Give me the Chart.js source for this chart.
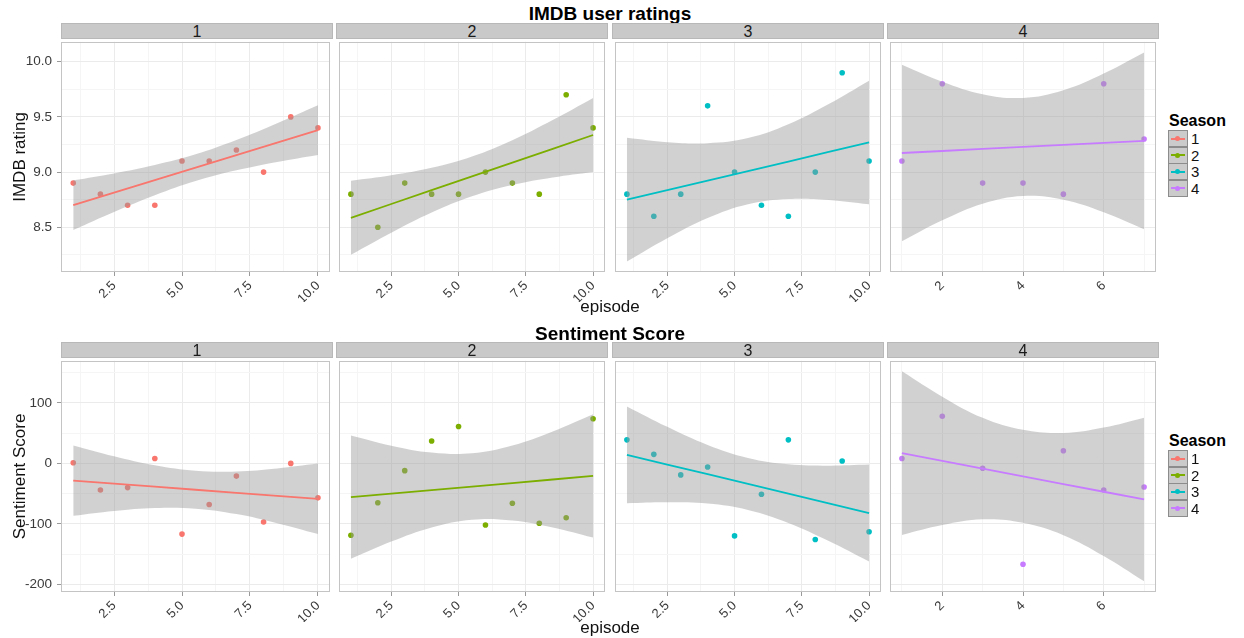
<!DOCTYPE html>
<html>
<head>
<meta charset="utf-8">
<script src="https://cdn.jsdelivr.net/npm/chart.js@4"></script>
<style>
  html, body { margin: 0; padding: 0; background: #fff; }
  body { width: 1244px; height: 638px; position: relative; overflow: hidden; font-family: "Liberation Sans", Arial, sans-serif; }
  .abs { position: absolute; }
  .mainTitle { left: 61px; width: 1098px; text-align: center; font-weight: bold; font-size: 19px; line-height: 22px; color: #000; }
  .strip { background: #c9c9c9; border: 1px solid #b8b8b8; box-sizing: border-box; text-align: center; font-size: 16px; line-height: 15px; color: #1a1a1a; }
  .xTitle { left: 61px; width: 1098px; text-align: center; font-size: 17px; line-height: 20px; color: #111; }
  .legTitle { font-weight: bold; font-size: 16px; line-height: 18px; color: #000; }
  .key { width: 20px; height: 17px; background: #cbcbcb; border: 1px solid #8c8c8c; box-sizing: border-box; }
  .keyLine { position: absolute; left: 2px; width: 14px; height: 2px; top: 6.5px; }
  .keyDot { position: absolute; left: 6px; width: 5px; height: 5px; top: 5px; border-radius: 50%; }
  .keyLab { font-size: 15px; line-height: 17px; color: #111; }
</style>
</head>
<body>
<script>
// ---------------- data ----------------
const SEASONS = ['1', '2', '3', '4'];
const SEASON_COLORS = ['#F8766D', '#7CAE00', '#00BFC4', '#C77CFF'];

const EPISODES_10 = [1, 2, 3, 4, 5, 6, 7, 8, 9, 10];
const EPISODES_7 = [1, 2, 3, 4, 5, 6, 7];
const FIT_X_10 = [1, 2.5, 4, 5.5, 7, 8.5, 10];
const FIT_X_7 = [1, 2, 3, 4, 5, 6, 7];

// IMDB ratings per season
const IMDB_S1 = [8.9, 8.8, 8.7, 8.7, 9.1, 9.1, 9.2, 9.0, 9.5, 9.4];
const IMDB_S2 = [8.8, 8.5, 8.9, 8.8, 8.8, 9.0, 8.9, 8.8, 9.7, 9.4];
const IMDB_S3 = [8.8, 8.6, 8.8, 9.6, 9.0, 8.7, 8.6, 9.0, 9.9, 9.1];
const IMDB_S4 = [9.1, 9.8, 8.9, 8.9, 8.8, 9.8, 9.3];

// IMDB linear fit and confidence band
const IMDB_FIT_S1 = [8.70, 8.813, 8.927, 9.04, 9.153, 9.267, 9.38];
const IMDB_HI_S1 = [8.925, 8.988, 9.064, 9.161, 9.29, 9.442, 9.605];
const IMDB_LO_S1 = [8.475, 8.638, 8.79, 8.919, 9.016, 9.092, 9.155];
const IMDB_FIT_S2 = [8.586, 8.711, 8.836, 8.961, 9.086, 9.211, 9.336];
const IMDB_HI_S2 = [8.921, 8.971, 9.039, 9.141, 9.289, 9.471, 9.671];
const IMDB_LO_S2 = [8.251, 8.451, 8.633, 8.781, 8.883, 8.951, 9.001];
const IMDB_FIT_S3 = [8.75, 8.836, 8.923, 9.009, 9.095, 9.182, 9.268];
const IMDB_HI_S3 = [9.31, 9.271, 9.262, 9.309, 9.434, 9.617, 9.828];
const IMDB_LO_S3 = [8.19, 8.401, 8.584, 8.709, 8.756, 8.747, 8.708];
const IMDB_FIT_S4 = [9.173, 9.191, 9.21, 9.228, 9.246, 9.265, 9.283];
const IMDB_HI_S4 = [9.973, 9.819, 9.706, 9.672, 9.742, 9.893, 10.083];
const IMDB_LO_S4 = [8.373, 8.563, 8.714, 8.784, 8.75, 8.637, 8.483];

// Sentiment scores per season
const SENT_S1 = [1, -44, -40, 8, -117, -68, -21, -97, 0, -57];
const SENT_S2 = [-119, -65, -12, 37, 61, -102, -66, -99, -90, 74];
const SENT_S3 = [39, 15, -19, -6, -120, -51, 39, -126, 4, -113];
const SENT_S4 = [8, 78, -8, -167, 21, -44, -39];

const SENT_FIT_S1 = [-28.5, -33.5, -38.5, -43.6, -48.6, -53.6, -58.6];
const SENT_HI_S1 = [29.8, 11.8, -3.2, -12.3, -13.3, -8.3, -0.3];
const SENT_LO_S1 = [-86.8, -78.8, -73.8, -74.9, -83.9, -98.9, -116.9];
const SENT_FIT_S2 = [-55.8, -50, -44.1, -38.3, -32.5, -26.6, -20.8];
const SENT_HI_S2 = [46.2, 29.4, 17.9, 16.7, 29.5, 52.8, 81.2];
const SENT_LO_S2 = [-157.8, -129.4, -106.1, -93.3, -94.5, -106, -122.8];
const SENT_FIT_S3 = [14.2, -1.9, -17.9, -34, -50, -66.1, -82.1];
const SENT_HI_S3 = [94.3, 60.5, 30.6, 9.1, -1.5, -3.8, -2.0];
const SENT_LO_S3 = [-65.9, -64.2, -66.4, -77, -98.5, -128.4, -162.2];
const SENT_FIT_S4 = [17, 4.2, -8.6, -21.4, -34.1, -46.9, -59.7];
const SENT_HI_S4 = [152.4, 110.5, 75.4, 55.5, 50.5, 59.4, 75.7];
const SENT_LO_S4 = [-118.4, -102.1, -92.6, -98.3, -118.7, -153.2, -195.1];

// ticks and ranges
const X_MAJOR_10 = [2.5, 5, 7.5, 10];
const X_LABELS_10 = ['2.5', '5.0', '7.5', '10.0'];
const X_MINOR_10 = [1.25, 3.75, 6.25, 8.75];
const X_RANGE_10 = [0.55, 10.45];
const X_MAJOR_7 = [2, 4, 6];
const X_LABELS_7 = ['2', '4', '6'];
const X_MINOR_7 = [1, 3, 5, 7];
const X_RANGE_7 = [0.7, 7.3];

const IMDB_MAJOR = [8.5, 9.0, 9.5, 10.0];
const IMDB_LABELS = ['8.5', '9.0', '9.5', '10.0'];
const IMDB_MINOR = [8.25, 8.75, 9.25, 9.75];
const IMDB_RANGE = [8.095, 10.18];
const SENT_MAJOR = [-200, -100, 0, 100];
const SENT_LABELS = ['-200', '-100', '0', '100'];
const SENT_MINOR = [-150, -50, 50, 150];
const SENT_RANGE = [-212.8, 169.8];

// ---------------- layout ----------------
const FONT = '"Liberation Sans", Arial, sans-serif';
const PANEL_LEFT = [61, 336, 612, 887];
const PANEL_W = 272;
const ROWS = [
  { title: 'IMDB user ratings', titleTop: 3, stripTop: 23, plotTop: 39, plotH: 233, xTitleTop: 297, legTop: 112,
    yTitle: 'IMDB rating', major: IMDB_MAJOR, labels: IMDB_LABELS, minor: IMDB_MINOR, range: IMDB_RANGE,
    pts: [IMDB_S1, IMDB_S2, IMDB_S3, IMDB_S4],
    fit: [IMDB_FIT_S1, IMDB_FIT_S2, IMDB_FIT_S3, IMDB_FIT_S4],
    hi: [IMDB_HI_S1, IMDB_HI_S2, IMDB_HI_S3, IMDB_HI_S4],
    lo: [IMDB_LO_S1, IMDB_LO_S2, IMDB_LO_S3, IMDB_LO_S4] },
  { title: 'Sentiment Score', titleTop: 323, stripTop: 342, plotTop: 358, plotH: 234, xTitleTop: 618, legTop: 432,
    yTitle: 'Sentiment Score', major: SENT_MAJOR, labels: SENT_LABELS, minor: SENT_MINOR, range: SENT_RANGE,
    pts: [SENT_S1, SENT_S2, SENT_S3, SENT_S4],
    fit: [SENT_FIT_S1, SENT_FIT_S2, SENT_FIT_S3, SENT_FIT_S4],
    hi: [SENT_HI_S1, SENT_HI_S2, SENT_HI_S3, SENT_HI_S4],
    lo: [SENT_LO_S1, SENT_LO_S2, SENT_LO_S3, SENT_LO_S4] }
];
const X_AXIS_H = 30;
const Y_AXIS_W = 61;

function el(cls, css, text) {
  const d = document.createElement('div');
  d.className = 'abs ' + cls;
  d.style.cssText += css;
  if (text !== undefined) d.textContent = text;
  document.body.appendChild(d);
  return d;
}

const framePlugin = {
  id: 'frame',
  afterDraw(chart) {
    const a = chart.chartArea, c = chart.ctx;
    c.save();
    c.strokeStyle = '#c4c4c4';
    c.lineWidth = 1;
    c.strokeRect(Math.round(a.left) + 0.5, Math.round(a.top) + 0.5, Math.round(a.right - a.left) - 1, Math.round(a.bottom - a.top) - 1);
    c.restore();
  }
};

function zeroPad(s) { s.paddingTop = 0; s.paddingBottom = 0; s.paddingLeft = 0; s.paddingRight = 0; }

function makePanel(row, i) {
  const showY = i === 0;
  const isS4 = i === 3;
  const eps = isS4 ? EPISODES_7 : EPISODES_10;
  const fitX = isS4 ? FIT_X_7 : FIT_X_10;
  const xMajor = isS4 ? X_MAJOR_7 : X_MAJOR_10;
  const xLabels = isS4 ? X_LABELS_7 : X_LABELS_10;
  const xMinor = isS4 ? X_MINOR_7 : X_MINOR_10;
  const xRange = isS4 ? X_RANGE_7 : X_RANGE_10;
  const color = SEASON_COLORS[i];

  const leftW = showY ? Y_AXIS_W : 0;
  const w = leftW + PANEL_W;
  const h = row.plotH + X_AXIS_H;
  const canvas = document.createElement('canvas');
  canvas.width = w; canvas.height = h;
  canvas.style.cssText = `position:absolute;left:${PANEL_LEFT[i] - leftW}px;top:${row.plotTop}px;width:${w}px;height:${h}px;`;
  document.body.appendChild(canvas);

  const xTicks = xMinor.concat(xMajor).sort((a, b) => a - b);
  const yTicks = row.minor.concat(row.major).sort((a, b) => a - b);
  const xIsMajor = v => xMajor.some(m => Math.abs(m - v) < 1e-9);
  const yIsMajor = v => row.major.some(m => Math.abs(m - v) < 1e-9);

  new Chart(canvas, {
    type: 'line',
    data: {
      datasets: [
        { data: eps.map((x, k) => ({ x, y: row.pts[i][k] })), showLine: false,
          pointRadius: 2.8, pointHoverRadius: 2.8, pointBackgroundColor: color, pointBorderWidth: 0, order: 3 },
        { data: fitX.map((x, k) => ({ x, y: row.hi[i][k] })), borderWidth: 0, pointRadius: 0,
          fill: '+1', backgroundColor: 'rgba(153,153,153,0.45)', borderColor: 'rgba(0,0,0,0)', tension: 0.4, order: 2 },
        { data: fitX.map((x, k) => ({ x, y: row.lo[i][k] })), borderWidth: 0, pointRadius: 0,
          fill: false, borderColor: 'rgba(0,0,0,0)', tension: 0.4, order: 2 },
        { data: fitX.map((x, k) => ({ x, y: row.fit[i][k] })), borderWidth: 1.8, pointRadius: 0,
          borderColor: color, fill: false, order: 1 }
      ]
    },
    options: {
      responsive: false, animation: false, devicePixelRatio: 1,
      layout: { padding: 0 },
      plugins: { legend: { display: false }, tooltip: { enabled: false }, title: { display: false } },
      scales: {
        x: {
          type: 'linear', min: xRange[0], max: xRange[1],
          afterBuildTicks: s => { s.ticks = xTicks.map(v => ({ value: v })); },
          afterFit: s => { s.height = X_AXIS_H; zeroPad(s); },
          ticks: { autoSkip: false, minRotation: 45, maxRotation: 45, padding: 2, color: '#3a3a3a',
                   font: { family: FONT, size: 13 },
                   callback: v => { const k = xMajor.findIndex(m => Math.abs(m - v) < 1e-9); return k >= 0 ? xLabels[k] : ''; } },
          grid: { color: c => (c.tick && xIsMajor(c.tick.value)) ? '#ebebeb' : '#f5f5f5',
                  tickColor: c => (c.tick && xIsMajor(c.tick.value)) ? '#9a9a9a' : 'rgba(0,0,0,0)',
                  tickLength: 4, drawTicks: true, lineWidth: 1 },
          border: { display: false }
        },
        y: {
          type: 'linear', min: row.range[0], max: row.range[1],
          afterBuildTicks: s => { s.ticks = yTicks.map(v => ({ value: v })); },
          afterFit: s => { s.width = leftW; zeroPad(s); },
          ticks: { display: showY, autoSkip: false, padding: 5, color: '#3a3a3a',
                   font: { family: FONT, size: 13.5 },
                   callback: v => { const k = row.major.findIndex(m => Math.abs(m - v) < 1e-9); return k >= 0 ? row.labels[k] : ''; } },
          grid: { color: c => (c.tick && yIsMajor(c.tick.value)) ? '#ebebeb' : '#f5f5f5',
                  tickColor: c => (c.tick && yIsMajor(c.tick.value)) ? '#9a9a9a' : 'rgba(0,0,0,0)',
                  tickLength: 4, drawTicks: showY, lineWidth: 1 },
          border: { display: false },
          title: { display: showY, text: row.yTitle, color: '#111', font: { family: FONT, size: 17 }, padding: { top: 10, bottom: 0 } }
        }
      }
    },
    plugins: [framePlugin]
  });
}

ROWS.forEach(row => {
  el('mainTitle', `top:${row.titleTop}px;`, row.title);
  SEASONS.forEach((s, i) => {
    el('strip', `left:${PANEL_LEFT[i]}px;top:${row.stripTop}px;width:${PANEL_W}px;height:16px;`, s);
    makePanel(row, i);
  });
  el('xTitle', `top:${row.xTitleTop}px;`, 'episode');
  // legend
  el('legTitle', `left:1169px;top:${row.legTop}px;`, 'Season');
  SEASONS.forEach((s, i) => {
    const y = row.legTop + 18 + i * 16.5;
    const k = el('key', `left:1168px;top:${y}px;`);
    const ln = document.createElement('div'); ln.className = 'keyLine'; ln.style.background = SEASON_COLORS[i]; k.appendChild(ln);
    const dt = document.createElement('div'); dt.className = 'keyDot'; dt.style.background = SEASON_COLORS[i]; k.appendChild(dt);
    el('keyLab', `left:1191px;top:${y}px;`, s);
  });
});
</script>
</body>
</html>
